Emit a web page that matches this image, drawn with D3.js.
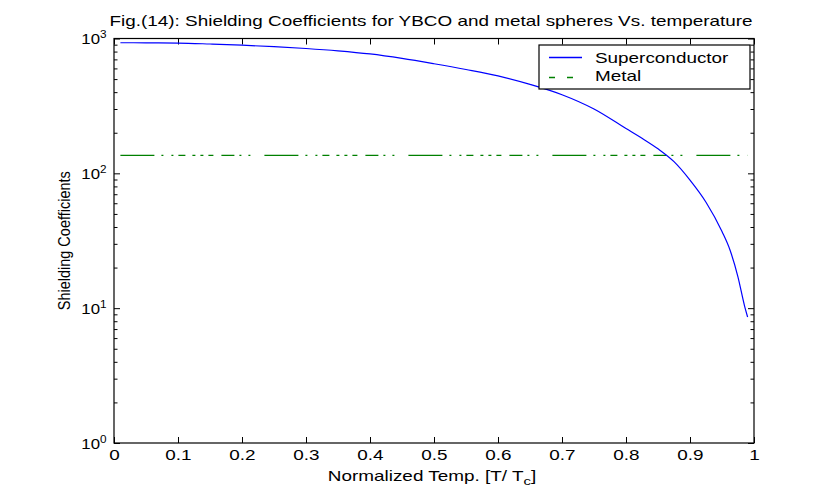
<!DOCTYPE html>
<html>
<head>
<meta charset="utf-8">
<script src="https://cdn.jsdelivr.net/npm/d3@7"></script>
<style>
  body { margin: 0; background: #fff; }
  text { font-family: "Liberation Sans", Arial, sans-serif; fill: #000; }
</style>
</head>
<body>
<script>
// values
var temps = [0.01, 0.05, 0.1, 0.15, 0.2, 0.25, 0.3, 0.35, 0.4, 0.45, 0.5, 0.55, 0.6,
             0.65, 0.7, 0.75, 0.8, 0.825, 0.85, 0.875, 0.9, 0.925, 0.95, 0.9625, 0.975, 0.985, 0.99];
var superValues = [930, 929, 925, 910, 892, 870, 843, 810, 768, 712, 650, 589, 528,
                   457, 383, 300, 215, 182, 152, 122, 89, 61, 37, 27, 17, 10.5, 8.6];
var metalTemps = [0.01, 0.99];
var metalValues = [136, 136];
var xTicks = [0, 0.1, 0.2, 0.3, 0.4, 0.5, 0.6, 0.7, 0.8, 0.9, 1];
var yTicks = [1, 10, 100, 1000];
var legendNames = ["Superconductor", "Metal"];

var width = 824,
    height = 491,
    marginLeft = 114,
    marginRight = 70,
    marginTop = 38.5,
    marginBottom = 48,
    stretch = 1.35   // the old figure's text is wide
;
var plotW = width - marginLeft - marginRight,
    plotH = height - marginTop - marginBottom;

var svg = d3.select("body").append("svg")
    .attr("width", width)
    .attr("height", height)
;

var x = d3.scaleLinear().domain([0, 1]).range([0, plotW]);
var y = d3.scaleLog().domain([1, 1000]).range([plotH, 0]);

var g = svg.append("g")
    .attr("transform", `translate(${marginLeft},${marginTop})`);

// minor ticks for log axis
var minors = [];
yTicks.slice(0, -1).forEach(function (d) {
    for (var k = 2; k < 10; k++) minors.push(d * k);
});

// bottom / top axes
g.append("g")
    .attr("class", "xaxis")
    .attr("transform", `translate(0,${plotH})`)
    .call(d3.axisBottom(x).tickValues(xTicks).tickSizeInner(-6).tickSizeOuter(0).tickPadding(7)
        .tickFormat(function (d) { return d === 0 || d === 1 ? d3.format("d")(d) : d3.format(".1f")(d); }));
g.append("g")
    .call(d3.axisTop(x).tickValues(xTicks).tickSizeInner(-6).tickSizeOuter(0).tickFormat(""));

// left / right axes
var yl = g.append("g")
    .attr("class", "yaxis")
    .call(d3.axisLeft(y).tickValues(yTicks).tickSizeInner(-6).tickSizeOuter(0).tickFormat(""));
g.append("g")
    .call(d3.axisLeft(y).tickValues(minors).tickSizeInner(-3.5).tickSizeOuter(0).tickFormat(""));
g.append("g")
    .attr("transform", `translate(${plotW},0)`)
    .call(d3.axisRight(y).tickValues(yTicks).tickSizeInner(-6).tickSizeOuter(0).tickFormat(""));
g.append("g")
    .attr("transform", `translate(${plotW},0)`)
    .call(d3.axisRight(y).tickValues(minors).tickSizeInner(-3.5).tickSizeOuter(0).tickFormat(""));

g.selectAll(".domain").remove();
g.selectAll(".tick line").attr("stroke", "#000");
g.selectAll(".xaxis .tick text")
    .attr("transform", `scale(${stretch},1)`)
    .style("font-size", "14px")
    .style("font-family", "'Liberation Sans', Arial, sans-serif");

// y tick labels as 10^n
yl.selectAll(".tick text").each(function (d) {
    var t = d3.select(this)
        .attr("x", -7.5 / 1.12)
        .attr("dy", "0.35em")
        .attr("transform", "scale(1.12,1)")
        .style("font-size", "15px")
        .style("font-family", "'Liberation Sans', Arial, sans-serif");
    t.append("tspan").text("10");
    t.append("tspan")
        .attr("dy", "-0.55em")
        .style("font-size", "10.5px")
        .text(Math.round(Math.log10(d)));
});

// plot box
g.append("rect")
    .attr("width", plotW)
    .attr("height", plotH)
    .attr("fill", "none")
    .attr("stroke", "#000")
    .attr("stroke-width", 1.2);

// lines
var line = d3.line()
    .x(function (d) { return x(d[0]); })
    .y(function (d) { return y(d[1]); })
    .curve(d3.curveMonotoneX);

var metalDash = "34,7,2,8,2,5,7,7,3,5,3,5,5,8,13,5,2,7,2,14";

g.append("path")
    .datum(d3.zip(metalTemps, metalValues))
    .attr("d", line)
    .attr("fill", "none")
    .attr("stroke", "#008000")
    .attr("stroke-width", 1.1)
    .attr("stroke-dasharray", metalDash);

g.append("path")
    .datum(d3.zip(temps, superValues))
    .attr("d", line)
    .attr("fill", "none")
    .attr("stroke", "#0000ff")
    .attr("stroke-width", 1.2);

// legend
var lg = svg.append("g").attr("transform", "translate(539,45)");
lg.append("rect")
    .attr("width", 211)
    .attr("height", 44)
    .attr("fill", "#fff")
    .attr("stroke", "#000")
    .attr("stroke-width", 1.2);
var legendColors = ["#0000ff", "#008000"];
var legendDash = [null, "6,12"];
legendNames.forEach(function (name, i) {
    lg.append("line")
        .attr("x1", 10).attr("x2", 43)
        .attr("y1", 12.5 + i * 20).attr("y2", 12.5 + i * 20)
        .attr("stroke", legendColors[i])
        .attr("stroke-width", 1.3)
        .attr("stroke-dasharray", legendDash[i]);
    lg.append("text")
        .attr("transform", `translate(56,${18 + i * 18}) scale(${stretch},1)`)
        .style("font-size", "14px")
        .text(name);
});

// title
svg.append("text")
    .attr("transform", `translate(431,25.5) scale(${stretch},1)`)
    .attr("text-anchor", "middle")
    .style("font-size", "14px")
    .text("Fig.(14): Shielding Coefficients for YBCO and metal spheres Vs. temperature");

// x label
var xl = svg.append("text")
    .attr("transform", `translate(432,481) scale(${stretch},1)`)
    .attr("text-anchor", "middle")
    .style("font-size", "14px");
xl.append("tspan").text("Normalized Temp. [T/ T");
xl.append("tspan").attr("dy", 4).style("font-size", "11px").text("c");
xl.append("tspan").attr("dy", -4).text("]");

// y label
svg.append("text")
    .attr("transform", `translate(70,${marginTop + plotH / 2}) scale(1.2,1) rotate(-90)`)
    .attr("text-anchor", "middle")
    .style("font-size", "14.5px")
    .text("Shielding Coefficients");
</script>
</body>
</html>
